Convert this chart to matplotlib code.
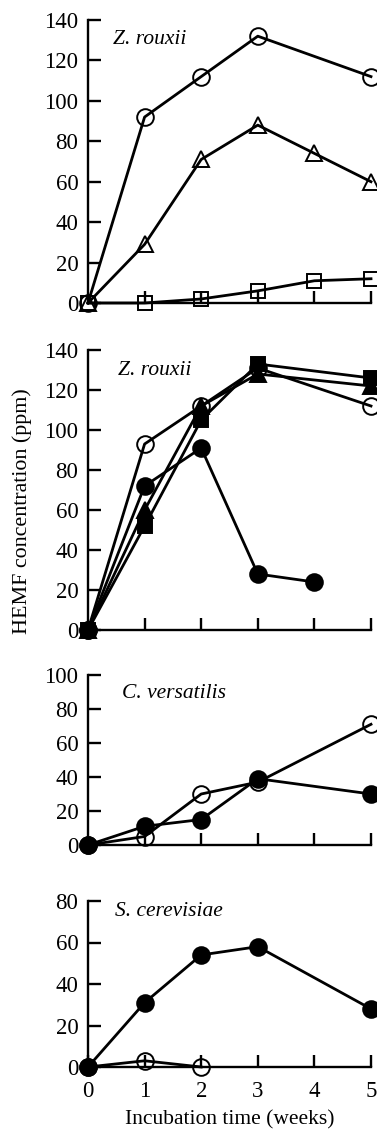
import matplotlib
matplotlib.use("Agg")
import matplotlib.pyplot as plt

plt.rcParams["font.family"] = ["Liberation Serif", "DejaVu Serif"]

# -------------------------------------------------
# Data (HEMF ppm vs incubation weeks)
# -------------------------------------------------
weeks = [0, 1, 2, 3, 4, 5]
weeks_no4 = [0, 1, 2, 3, 5]
weeks_0to4 = [0, 1, 2, 3, 4]
weeks_0to2 = [0, 1, 2]

# panel 1 - Z. rouxii
p1_circle = [0, 92, 112, 132, 112]
p1_triangle = [0, 29, 71, 88, 74, 60]
p1_square = [0, 0, 2, 6, 11, 12]

# panel 2 - Z. rouxii
p2_open_circle = [0, 93, 112, 131, 112]
p2_filled_circle = [0, 72, 91, 28, 24]
p2_filled_triangle = [0, 60, 112, 128, 122]
p2_filled_square = [0, 52, 105, 133, 126]

# panel 3 - C. versatilis
p3_open_circle = [0, 5, 30, 37, 71]
p3_filled_circle = [0, 11, 15, 39, 30]

# panel 4 - S. cerevisiae
p4_filled_circle = [0, 31, 54, 58, 28]
p4_open_circle = [0, 3, 0]

# -------------------------------------------------
# Figure layout (pixel based)
# -------------------------------------------------
W, H = 377, 1130
fig = plt.figure(figsize=(W / 100, H / 100), dpi=100)

def make_axes(top, bottom, ymax, ystep, label, label_xy, show_xlabels=False):
    ax = fig.add_axes([88 / W, (H - bottom) / H, 283 / W, (bottom - top) / H])
    ax.set_xlim(0, 5)
    ax.set_ylim(0, ymax)
    ax.spines["top"].set_visible(False)
    ax.spines["right"].set_visible(False)
    ax.spines["left"].set_linewidth(1.7)
    ax.spines["bottom"].set_linewidth(1.7)
    ax.set_xticks([1, 2, 3, 4, 5])
    ax.set_yticks(list(range(0, ymax + 1, ystep)))
    ax.tick_params(axis="both", direction="in", length=9, width=1.7,
                   labelsize=16.5, colors="black")
    ax.tick_params(axis="y", pad=7)
    ax.tick_params(axis="x", pad=10)
    if show_xlabels:
        ax.set_xticks([0, 1, 2, 3, 4, 5])
        ax.set_xticklabels(["0", "1", "2", "3", "4", "5"])
    else:
        ax.set_xticklabels([])
    ax.text(label_xy[0] / W, 1 - label_xy[1] / H, label, transform=fig.transFigure,
            fontsize=15.5, style="italic", ha="left", va="center")
    return ax

def line(ax, x, y, marker, filled, ms=12):
    ax.plot(x, y, color="black", lw=2, marker=marker, markersize=ms,
            markerfacecolor="black" if filled else "none",
            markeredgecolor="black", markeredgewidth=1.4, clip_on=False)

# Panel 1
ax1 = make_axes(20, 303, 140, 20, "Z. rouxii", (113, 40))
line(ax1, weeks, p1_square, "s", False, 10)
line(ax1, weeks, p1_triangle, "^", False, 12)
line(ax1, weeks_no4, p1_circle, "o", False, 12)

# Panel 2
ax2 = make_axes(350, 630, 140, 20, "Z. rouxii", (118, 370))
line(ax2, weeks_no4, p2_open_circle, "o", False, 12)
line(ax2, weeks_0to4, p2_filled_circle, "o", True, 12)
line(ax2, weeks_no4, p2_filled_triangle, "^", True, 11)
line(ax2, weeks_no4, p2_filled_square, "s", True, 10)

# Panel 3
ax3 = make_axes(675, 845, 100, 20, "C. versatilis", (122, 693))
line(ax3, weeks_no4, p3_open_circle, "o", False, 12)
line(ax3, weeks_no4, p3_filled_circle, "o", True, 12)

# Panel 4
ax4 = make_axes(901, 1067, 80, 20, "S. cerevisiae", (115, 912), show_xlabels=True)
line(ax4, weeks_0to2, p4_open_circle, "o", False, 12)
line(ax4, weeks_no4, p4_filled_circle, "o", True, 12)
ax4.set_xlabel("Incubation time (weeks)", fontsize=15.5, labelpad=6)

fig.text(22 / W, 1 - 511 / H, "HEMF concentration (ppm)", rotation=90,
         fontsize=15.8, ha="center", va="center")

fig.savefig("out.png", dpi=100)
